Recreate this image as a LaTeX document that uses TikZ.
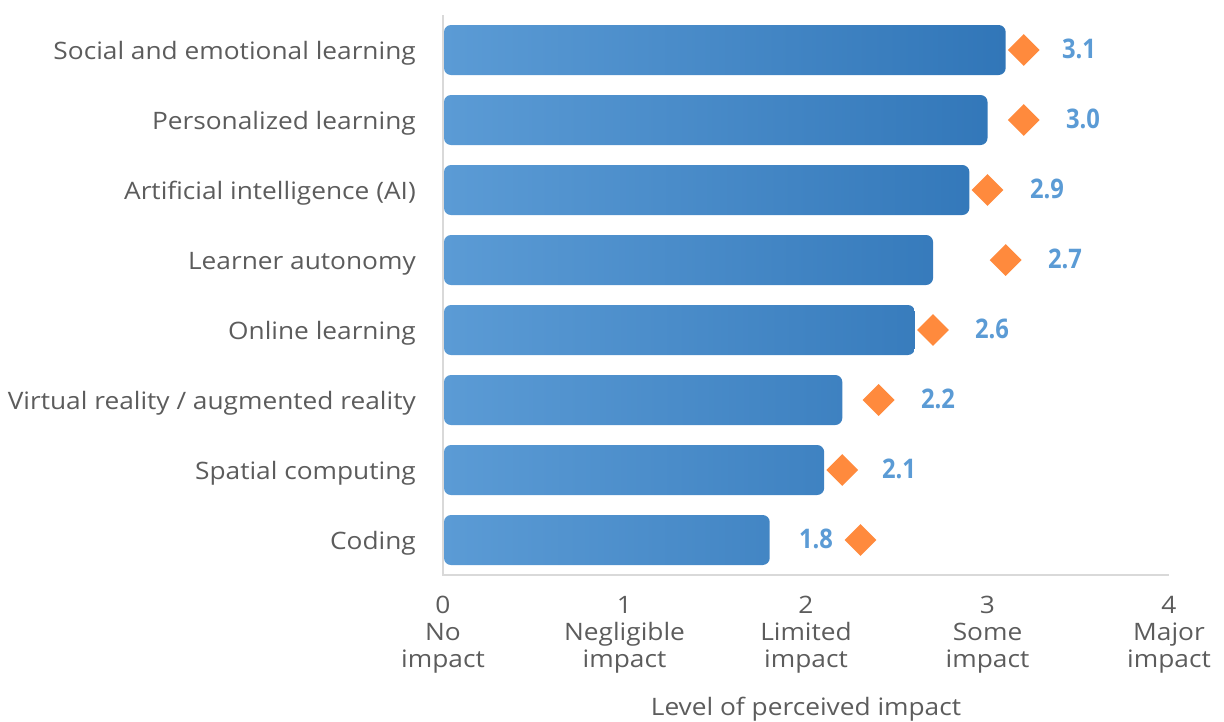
\documentclass[tikz,border=0pt]{standalone}
\usepackage{fontspec}
\setmainfont{Open Sans}[FakeStretch=1.095]
\newfontfamily\valfont{Open Sans}[FakeStretch=0.88]
\usetikzlibrary{shapes.geometric}
\definecolor{barlight}{HTML}{5B9BD5}
\definecolor{bardark}{HTML}{3176B8}
\definecolor{mkorange}{HTML}{FF8A3D}
\definecolor{valblue}{HTML}{5B9BD5}
\definecolor{txtgray}{HTML}{5C5C5C}
\definecolor{axisgray}{HTML}{D9D9D9}
\tikzset{
  catlabel/.style={anchor=base east, text=txtgray, font=\fontsize{24}{27}\selectfont, inner sep=0pt},
  vallabel/.style={anchor=base, text=valblue, font=\valfont\fontsize{27}{30}\selectfont\bfseries, inner sep=0pt},
  mark diamond/.style={diamond, fill=mkorange, minimum width=32pt, minimum height=32pt, inner sep=0pt},
  ticklabel/.style={align=center, text=txtgray, font=\fontsize{24}{27}\selectfont, inner sep=0pt, anchor=north},
  axisline/.style={draw=axisgray, line width=1.5pt},
}
\begin{document}
\begin{tikzpicture}[x=1pt,y=-1pt]
\useasboundingbox (0,0) rectangle (1224,721);
% axes
\coordinate (ytop) at (443,15);
\coordinate (orig) at (443,575);
\coordinate (xend) at (1169,575);
\draw[axisline] (ytop) -- (orig) -- (xend);
% bars
\foreach \i/\v/\lab/\d/\vx in {0/3.1/{Social and emotional learning}/3.2/1079,
  1/3.0/{Personalized learning}/3.2/1083,
  2/2.9/{Artificial intelligence (AI)}/3.0/1047,
  3/2.7/{Learner autonomy}/3.1/1065,
  4/2.6/{Online learning}/2.7/992,
  5/2.2/{Virtual reality / augmented reality}/2.4/938,
  6/2.1/{Spatial computing}/2.2/899,
  7/1.8/{Coding}/2.3/816} {
  \pgfmathsetmacro{\yc}{50+70*\i}
  \pgfmathsetmacro{\xe}{443+181.5*\v}
  \pgfmathsetmacro{\xd}{443+181.5*\d}
  \pgfmathtruncatemacro{\pc}{100*\v/3.1}
  \colorlet{rc}{bardark!\pc!barlight}
  \shade[left color=barlight, right color=rc, rounded corners=7pt]
    (444,\yc-25) rectangle (\xe,\yc+25);
  \node[catlabel] (cat\i) at (416,\yc+9) {\lab};
  \node[mark diamond] (dia\i) at (\xd,\yc) {};
  \node[vallabel] (val\i) at (\vx,\yc+8) {\v};
}
% tick labels
\node[ticklabel] (t0) at (443,596) {0\\No\\impact};
\node[ticklabel] (t1) at (624.5,596) {1\\Negligible\\impact};
\node[ticklabel] (t2) at (806,596) {2\\Limited\\impact};
\node[ticklabel] (t3) at (987.5,596) {3\\Some\\impact};
\node[ticklabel] (t4) at (1169,596) {4\\Major\\impact};
\node[anchor=base, text=txtgray, font=\fontsize{24}{27}\selectfont, inner sep=0pt] (xtitle) at (806,715) {Level of perceived impact};
\end{tikzpicture}
\end{document}
